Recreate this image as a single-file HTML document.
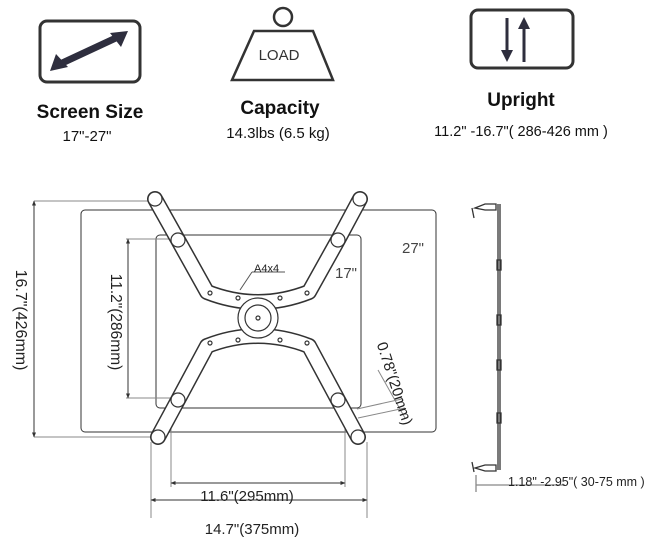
<!DOCTYPE html>
<html><head><style>
body{margin:0;background:#fff;}
svg{display:block;font-family:"Liberation Sans",sans-serif;}
</style></head><body>
<svg width="663" height="537" viewBox="0 0 663 537" xmlns="http://www.w3.org/2000/svg">
<defs>
<marker id="a" viewBox="0 0 10 10" refX="9" refY="5" markerWidth="5" markerHeight="5" orient="auto-start-reverse"><path d="M0,1 L10,5 L0,9z" fill="#333"/></marker>
</defs>
<rect x="40" y="21" width="100" height="61" rx="7" fill="none" stroke="#333" stroke-width="3"/>
<line x1="60" y1="64" x2="118" y2="37" stroke="#2e2e3e" stroke-width="7"/>
<path d="M50,71 L56,54 L68,67z M128,31 L110,33 L121,47z" fill="#2e2e3e"/>
<text x="90" y="118" font-size="19" font-weight="bold" text-anchor="middle" fill="#111">Screen Size</text>
<text x="87" y="141" font-size="15" text-anchor="middle" fill="#111">17"-27"</text>
<circle cx="283" cy="17" r="9" fill="none" stroke="#333" stroke-width="2.5"/>
<path d="M254,31 L313,31 L333,80 L232,80z" fill="#fff" stroke="#333" stroke-width="2.5"/>
<text x="279" y="60" font-size="15" text-anchor="middle" fill="#333">LOAD</text>
<text x="280" y="114" font-size="19" font-weight="bold" text-anchor="middle" fill="#111">Capacity</text>
<text x="278" y="138" font-size="15" text-anchor="middle" fill="#111">14.3lbs (6.5 kg)</text>
<rect x="471" y="10" width="102" height="58" rx="7" fill="none" stroke="#333" stroke-width="3"/>
<line x1="507" y1="18" x2="507" y2="52" stroke="#2e2e3e" stroke-width="3"/>
<path d="M501,50 L513,50 L507,62z" fill="#2e2e3e"/>
<line x1="524" y1="62" x2="524" y2="27" stroke="#2e2e3e" stroke-width="3"/>
<path d="M518,29 L530,29 L524,17z" fill="#2e2e3e"/>
<text x="521" y="106" font-size="19" font-weight="bold" text-anchor="middle" fill="#111">Upright</text>
<text x="521" y="136" font-size="14.5" text-anchor="middle" fill="#111">11.2" -16.7"( 286-426 mm )</text>

<g stroke="#333" fill="none" stroke-width="1">
<rect x="81" y="210" width="355" height="222" rx="4"/>
<rect x="156" y="235" width="205" height="173" rx="4"/>
<line x1="34" y1="201" x2="150" y2="201" stroke="#888"/>
<line x1="34" y1="437" x2="150" y2="437" stroke="#888"/>
<line x1="34" y1="201" x2="34" y2="437" marker-start="url(#a)" marker-end="url(#a)"/>
<line x1="126" y1="239" x2="175" y2="239" stroke="#888"/>
<line x1="126" y1="398" x2="175" y2="398" stroke="#888"/>
<line x1="128" y1="239" x2="128" y2="398" marker-start="url(#a)" marker-end="url(#a)"/>
<line x1="171" y1="420" x2="171" y2="487" stroke="#888"/>
<line x1="345" y1="420" x2="345" y2="487" stroke="#888"/>
<line x1="171" y1="483" x2="345" y2="483" marker-start="url(#a)" marker-end="url(#a)"/>
<line x1="151" y1="442" x2="151" y2="518" stroke="#888"/>
<line x1="367" y1="442" x2="367" y2="518" stroke="#888"/>
<line x1="151" y1="500" x2="367" y2="500" marker-start="url(#a)" marker-end="url(#a)"/>
<line x1="358" y1="418" x2="405" y2="408" stroke="#888"/>
<line x1="357" y1="409" x2="402" y2="399" stroke="#888"/>
<line x1="378" y1="370" x2="405" y2="418" stroke="#888"/>
<line x1="240" y1="290" x2="252" y2="272" stroke="#555"/>
<line x1="252" y1="272" x2="285" y2="272" stroke="#555"/>
</g>
<g fill="none" stroke-linecap="round" stroke-linejoin="round">
<path d="M155,199 L178,240 L207,292 Q258,312 309,292 L338,240 L360,199" stroke="#333" stroke-width="16"/>
<path d="M155,199 L178,240 L207,292 Q258,312 309,292 L338,240 L360,199" stroke="#fff" stroke-width="13"/>
<path d="M158,437 L178,400 L207,346 Q258,326 309,346 L338,400 L358,437" stroke="#333" stroke-width="16"/>
<path d="M158,437 L178,400 L207,346 Q258,326 309,346 L338,400 L358,437" stroke="#fff" stroke-width="13"/>
</g>
<g stroke="#333" fill="#fff" stroke-width="1.2">
<circle cx="258" cy="318" r="20"/><circle cx="258" cy="318" r="13"/><circle cx="258" cy="318" r="2"/>
<circle cx="155" cy="199" r="7"/><circle cx="360" cy="199" r="7"/><circle cx="178" cy="240" r="7"/><circle cx="338" cy="240" r="7"/>
<circle cx="158" cy="437" r="7"/><circle cx="358" cy="437" r="7"/><circle cx="178" cy="400" r="7"/><circle cx="338" cy="400" r="7"/>
<circle cx="210" cy="293" r="2"/><circle cx="238" cy="298" r="2"/><circle cx="280" cy="298" r="2"/><circle cx="307" cy="293" r="2"/>
<circle cx="210" cy="343" r="2"/><circle cx="238" cy="340" r="2"/><circle cx="280" cy="340" r="2"/><circle cx="307" cy="343" r="2"/>
</g>
<g stroke="#333" fill="none" stroke-width="1.3">
<line x1="498" y1="204" x2="498" y2="470"/>
<line x1="500" y1="204" x2="500" y2="470"/>
<path d="M475,208 L485,204 L496,204 L496,210 L485,210 z"/>
<path d="M472,208 L474,218"/>
<path d="M475,468 L485,465 L496,465 L496,471 L485,471 z"/>
<path d="M472,462 L474,472"/>
<rect x="497" y="260" width="4" height="10"/><rect x="497" y="315" width="4" height="10"/>
<rect x="497" y="360" width="4" height="10"/><rect x="497" y="413" width="4" height="10"/>
<line x1="476" y1="475" x2="476" y2="492" stroke="#888"/>
<line x1="476" y1="485" x2="565" y2="485" stroke="#888"/>
</g>
<g fill="#222" font-size="15">
<text transform="translate(16,320) rotate(90)" text-anchor="middle" font-size="16">16.7"(426mm)</text>
<text transform="translate(111,322) rotate(90)" text-anchor="middle" font-size="15.5">11.2"(286mm)</text>
<text x="247" y="501" text-anchor="middle">11.6"(295mm)</text>
<text x="252" y="534" text-anchor="middle">14.7"(375mm)</text>
<text transform="translate(390,385) rotate(72)" text-anchor="middle">0.78"(20mm)</text>
<text x="335" y="278" font-size="15" fill="#444">17"</text>
<text x="402" y="253" font-size="15" fill="#444">27"</text>
<text x="254" y="272" font-size="11">A4x4</text>
<text x="508" y="486" font-size="12.5">1.18" -2.95"( 30-75 mm )</text>
</g>
</svg>
</body></html>
